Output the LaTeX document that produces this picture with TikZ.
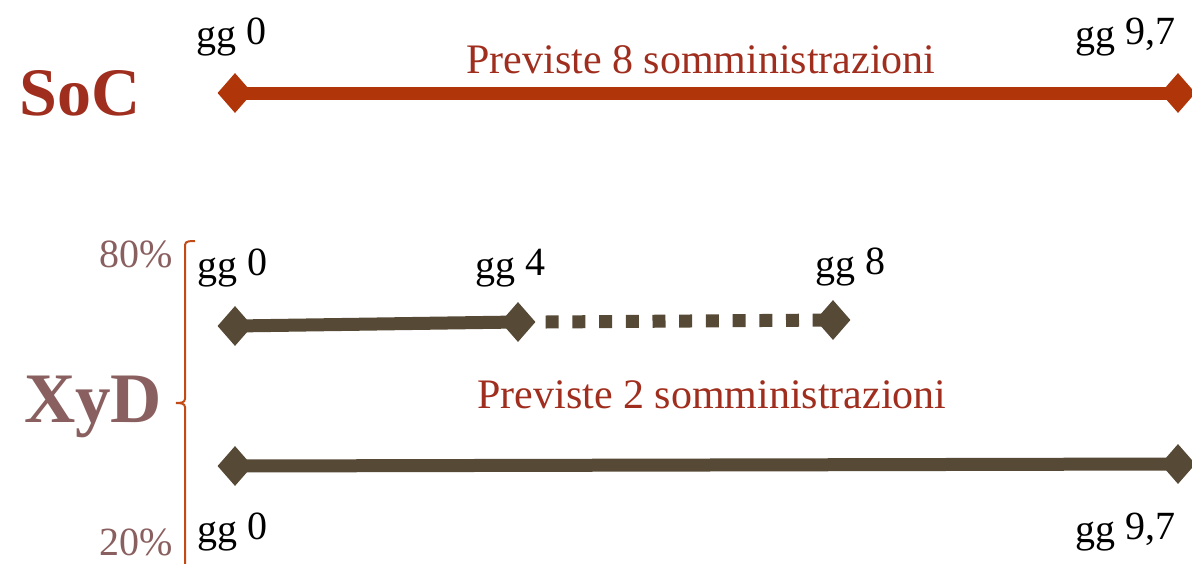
\documentclass[tikz,border=0pt]{standalone}
\usepackage{fontspec}
\setmainfont{Liberation Serif}
\usetikzlibrary{shapes.geometric,backgrounds}
\definecolor{socred}{HTML}{A02E1E}
\definecolor{socline}{HTML}{B0360A}
\definecolor{xydcol}{HTML}{8A5F5F}
\definecolor{xydline}{HTML}{564A36}
\definecolor{bracecol}{HTML}{C24A16}
\begin{document}
\begin{tikzpicture}[x=1pt,y=-1pt,
  dia/.style={diamond,fill=#1,draw=none,minimum width=35pt,minimum height=40pt,inner sep=0pt},
  lbl/.style={font=\fontsize{40}{44}\selectfont,inner sep=0pt,anchor=base west},
  prev/.style={font=\fontsize{42}{46}\selectfont,inner sep=0pt,anchor=base,text=socred},
  big/.style={font=\fontsize{68}{72}\selectfont\bfseries,inner sep=0pt,anchor=base west},
  pct/.style={font=\fontsize{40}{44}\selectfont,inner sep=0pt,anchor=base east,text=xydcol},
  thick line/.style={line width=13pt,draw=#1}]
\useasboundingbox (0,0) rectangle (1192,563);

% SoC
\node[big,text=socred] (soc) at (19,115) {SoC};
\node[dia=socline] (s0) at (235,93) {};
\node[dia=socline] (s1) at (1178,93) {};
\node[lbl] (s0l) at (196,47) {gg \raisebox{3pt}{0}};
\node[lbl] (s1l) at (1075,47) {gg \raisebox{3pt}{9,7}};
\node[prev] (sp) at (701,73) {Previste 8 somministrazioni};

% XyD
\node[big,text=xydcol,font=\fontsize{71}{75}\selectfont\bfseries] (xyd) at (24,422) {XyD};
\node[pct] (p80) at (173,267) {80\%};
\node[pct] (p20) at (173,555) {20\%};
\draw[bracecol,line width=2pt]
  (195,241) to[out=180,in=90] (185,245) -- (185,399) to[out=-90,in=0] (176,403)
  to[out=0,in=90] (185,407) -- (185,570);

\node[dia=xydline] (x0) at (235,326) {};
\node[dia=xydline] (x4) at (518,322) {};
\node[dia=xydline] (x8) at (833,320) {};
\node[dia=xydline] (y0) at (235,466) {};
\node[dia=xydline] (y1) at (1178,464) {};

\node[lbl] (x0l) at (197,278) {gg \raisebox{3pt}{0}};
\node[lbl] (x4l) at (475,278) {gg \raisebox{3pt}{4}};
\node[lbl] (x8l) at (815,277) {gg \raisebox{3pt}{8}};
\node[prev] (xp) at (712,408) {Previste 2 somministrazioni};
\node[lbl] (y0l) at (197,542) {gg \raisebox{3pt}{0}};
\node[lbl] (y1l) at (1075,542) {gg \raisebox{3pt}{9,7}};

\begin{scope}[on background layer]
  \draw[thick line=socline] (s0.center) -- (s1.center);
  \draw[thick line=xydline] (x0.center) -- (x4.center);
  \draw[thick line=xydline] (y0.center) -- (y1.center);
  \draw[line width=13pt,draw=xydline,dash pattern=on 13pt off 13.7pt]
    ([xshift=10pt]x4.east) -- (x8.center);
\end{scope}
\end{tikzpicture}
\end{document}
